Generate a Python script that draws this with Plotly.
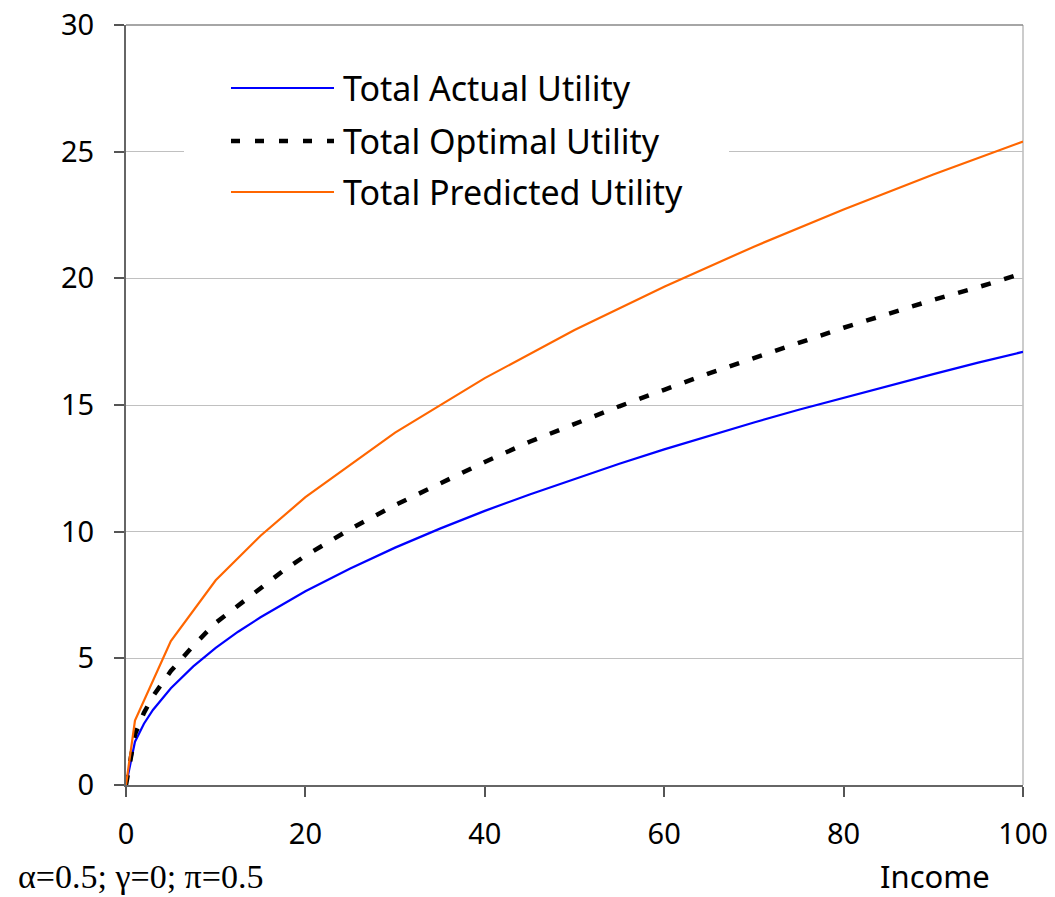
import plotly.graph_objects as go

# ---- data ----
income_actual = [0, 1, 2, 3, 5, 7.5, 10, 12.5, 15, 17.5, 20, 25, 30, 35, 40, 45, 50,
                 55, 60, 65, 70, 75, 80, 85, 90, 95, 100]
total_actual = [0, 1.71, 2.42, 2.96, 3.82, 4.68, 5.41, 6.05, 6.62, 7.15, 7.65, 8.55,
                9.37, 10.12, 10.82, 11.47, 12.09, 12.68, 13.25, 13.79, 14.31, 14.81,
                15.29, 15.77, 16.22, 16.67, 17.10]

income_optimal = [0, 1, 2, 3, 5, 7.5, 10, 12.5, 15, 17.5, 20, 25, 30, 35, 40, 45, 50,
                  55, 60, 65, 70, 75, 80, 85, 90, 95, 100]
total_optimal = [0, 2.0, 2.85, 3.5, 4.5, 5.5, 6.4, 7.1, 7.8, 8.45, 9.05, 10.1, 11.05,
                 11.9, 12.75, 13.55, 14.25, 14.95, 15.6, 16.25, 16.85, 17.45, 18.05,
                 18.6, 19.15, 19.65, 20.2]

income_predicted = [0, 1, 5, 10, 15, 20, 30, 40, 50, 60, 70, 80, 90, 100]
total_predicted = [0, 2.54, 5.68, 8.08, 9.84, 11.36, 13.91, 16.06, 17.96, 19.67,
                   21.25, 22.72, 24.10, 25.40]

series_names = ["Total Actual Utility", "Total Optimal Utility", "Total Predicted Utility"]
x_ticks = [0, 20, 40, 60, 80, 100]
y_ticks = [0, 5, 10, 15, 20, 25, 30]
params_text = "α=0.5; γ=0; π=0.5"
x_title = "Income"

# ---- layout geometry (pixels) ----
W, H = 1055, 897
L, R, T, B = 126, 1023, 25, 785
FONT = "Noto Sans"


def px(xp):
    return (xp - L) / (R - L)


def py(yp):
    return (B - yp) / (B - T)


fig = go.Figure()
fig.add_trace(go.Scatter(x=income_actual, y=total_actual, mode="lines",
                         name=series_names[0], line=dict(color="#0000ff", width=2.2)))
fig.add_trace(go.Scatter(x=income_optimal, y=total_optimal, mode="lines",
                         name=series_names[1],
                         line=dict(color="#000000", width=4.5, dash="10px,14px")))
fig.add_trace(go.Scatter(x=income_predicted, y=total_predicted, mode="lines",
                         name=series_names[2], line=dict(color="#ff6600", width=2.2)))

shapes = []
# top border and right border of plot area
shapes.append(dict(type="line", xref="paper", yref="paper", x0=0, x1=1, y0=1, y1=1,
                   line=dict(color="#888888", width=1.5), layer="above"))
shapes.append(dict(type="line", xref="paper", yref="paper", x0=1, x1=1, y0=0, y1=1,
                   line=dict(color="#bbbbbb", width=1.5), layer="below"))
# legend background
shapes.append(dict(type="rect", xref="paper", yref="paper", x0=px(184), x1=px(729),
                   y0=py(218), y1=py(58), fillcolor="white", line=dict(width=0),
                   layer="above"))
legend_rows = [88, 141, 192]
legend_styles = [dict(color="#0000ff", width=2.2),
                 dict(color="#000000", width=4.5, dash="9px,15px"),
                 dict(color="#ff6600", width=2.2)]
annotations = []
for name, row, st in zip(series_names, legend_rows, legend_styles):
    shapes.append(dict(type="line", xref="paper", yref="paper", x0=px(231), x1=px(334),
                       y0=py(row), y1=py(row), line=st, layer="above"))
    annotations.append(dict(xref="paper", yref="paper", x=px(341), y=py(row),
                            xanchor="left", yanchor="middle", text=name,
                            showarrow=False, font=dict(family=FONT, size=34, color="black")))

annotations.append(dict(xref="paper", yref="paper", x=px(16), y=py(876),
                        xanchor="left", yanchor="middle", text=params_text, showarrow=False,
                        font=dict(family="Liberation Serif", size=34, color="black")))
annotations.append(dict(xref="paper", yref="paper", x=px(935), y=py(876),
                        xanchor="center", yanchor="middle", text=x_title, showarrow=False,
                        font=dict(family=FONT, size=31, color="black")))

fig.update_layout(
    width=W, height=H,
    margin=dict(l=L, r=W - R, t=T, b=H - B, autoexpand=False),
    plot_bgcolor="white", paper_bgcolor="white",
    showlegend=False,
    shapes=shapes, annotations=annotations,
    font=dict(family=FONT, size=29, color="black"),
)
fig.update_xaxes(range=[0, 100], tickvals=x_ticks, showgrid=False, zeroline=False,
                 automargin=False,
                 showline=True, linecolor="#666666", linewidth=2,
                 ticks="outside", ticklen=10, tickwidth=1.5, tickcolor="#555555",
                 ticklabelstandoff=12, tickfont=dict(family=FONT, size=29, color="black"))
fig.update_yaxes(range=[0, 30], tickvals=y_ticks, showgrid=True, gridcolor="#c0c0c0",
                 gridwidth=1.2, zeroline=False, automargin=False,
                 showline=True, linecolor="#666666", linewidth=2,
                 ticks="outside", ticklen=10, tickwidth=1.5, tickcolor="#555555",
                 ticklabelstandoff=14, tickfont=dict(family=FONT, size=29, color="black"))

fig.write_html("out.html")
